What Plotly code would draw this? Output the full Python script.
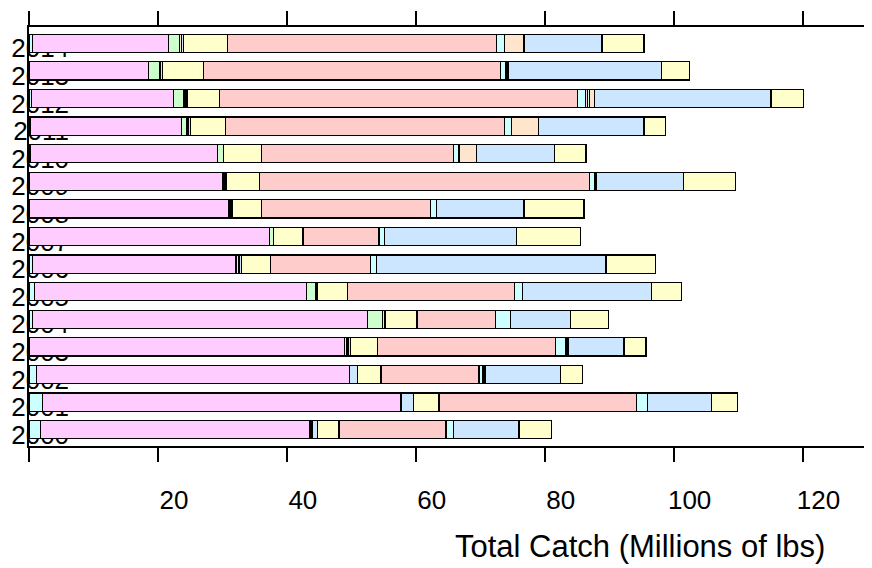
import plotly.graph_objects as go

years = [2000, 2001, 2002, 2003, 2004, 2005, 2006, 2007, 2008, 2009, 2010, 2011, 2012, 2013, 2014]
year_labels = [str(y) for y in years]

# segment values (millions of lbs), stacked left to right, years 2000..2014
group_01 = [1.8, 2.1, 1.2, 0.1, 0.5, 0.9, 0.5, 0.1, 0.1, 0.1, 0.2, 0.2, 0.4, 0.0, 0.5]
group_02 = [41.7, 55.6, 48.5, 48.9, 52.0, 42.1, 31.6, 37.2, 30.8, 30.0, 29.0, 23.4, 22.0, 18.5, 21.1]
group_03 = [0.25, 0.0, 0.0, 0.25, 2.4, 1.4, 0.4, 0.6, 0.2, 0.2, 1.0, 0.9, 1.6, 1.7, 1.8]
group_04 = [0.25, 0.0, 0.0, 0.25, 0.2, 0.2, 0.2, 0.0, 0.2, 0.15, 0.0, 0.2, 0.2, 0.2, 0.2]
group_05 = [0.8, 1.9, 1.2, 0.4, 0.2, 0.2, 0.3, 0.0, 0.2, 0.15, 0.0, 0.3, 0.3, 0.3, 0.4]
group_06 = [3.3, 4.0, 3.7, 4.2, 4.9, 4.6, 4.5, 4.6, 4.6, 5.2, 5.9, 5.5, 5.1, 6.4, 6.8]
group_07 = [16.6, 30.6, 15.2, 27.6, 12.2, 25.9, 15.5, 11.8, 26.2, 51.2, 29.7, 43.3, 55.5, 46.0, 41.7]
group_08 = [1.1, 1.7, 0.5, 1.6, 2.3, 1.2, 0.9, 0.8, 0.9, 0.8, 0.9, 1.1, 1.2, 0.8, 1.3]
group_09 = [0.0, 0.0, 0.15, 0.15, 0.0, 0.0, 0.0, 0.0, 0.0, 0.1, 0.0, 0.0, 0.3, 0.15, 0.0]
group_10 = [0.0, 0.0, 0.15, 0.1, 0.0, 0.0, 0.0, 0.0, 0.0, 0.0, 0.0, 0.0, 0.3, 0.15, 0.0]
group_11 = [0.0, 0.0, 0.2, 0.15, 0.0, 0.0, 0.0, 0.0, 0.0, 0.1, 2.7, 4.2, 0.8, 0.2, 3.0]
group_12 = [10.2, 10.0, 11.6, 8.6, 9.3, 20.1, 35.6, 20.5, 13.6, 13.5, 12.1, 16.3, 27.4, 23.7, 12.1]
group_13 = [5.0, 4.0, 3.5, 3.4, 5.9, 4.6, 7.7, 9.9, 9.3, 8.1, 4.9, 3.4, 5.0, 4.4, 6.5]

groups = [group_01, group_02, group_03, group_04, group_05, group_06, group_07,
          group_08, group_09, group_10, group_11, group_12, group_13]

palette = ["#CCFFFF", "#FFCCFF", "#CCFFCC", "#FFE5CC", "#CCE6FF", "#FFFFCC", "#FFCCCC"]

x_tickvals = [0, 20, 40, 60, 80, 100, 120]
x_ticktext = ["", "20", "40", "60", "80", "100", "120"]

FONT = "Liberation Sans, Arial, sans-serif"

fig = go.Figure()
for i, vals in enumerate(groups):
    fig.add_trace(go.Bar(
        y=years, x=vals, orientation="h",
        marker=dict(color=palette[i % len(palette)], line=dict(color="black", width=1.2)),
        width=0.655, showlegend=False, hoverinfo="skip",
    ))

fig.update_layout(
    barmode="stack",
    width=864, height=560, autosize=False,
    margin=dict(l=21, r=3, t=13, b=122, pad=0),
    plot_bgcolor="white", paper_bgcolor="white",
    font=dict(family=FONT, color="black"),
    annotations=[dict(
        text="Total Catch (Millions of lbs)", xref="paper", yref="paper",
        x=0.7286, y=0, yshift=-100, xanchor="center", yanchor="middle",
        showarrow=False, font=dict(size=31, family=FONT, color="black"),
    )],
)

fig.update_xaxes(
    range=[0, 130], tickvals=x_tickvals, ticktext=x_ticktext,
    ticks="outside", ticklen=14, tickwidth=1.5, tickcolor="black",
    showline=True, linecolor="black", linewidth=1.5, mirror="ticks",
    showgrid=False, zeroline=False,
    tickfont=dict(size=26, family=FONT, color="black"),
    ticklabelshift=16, ticklabelstandoff=16,
)
fig.update_yaxes(
    range=[1999.41, 2014.59], tickvals=years, ticktext=year_labels,
    ticks="", showline=True, linecolor="black", linewidth=1.5, mirror=True,
    showgrid=False, zeroline=False, layer="below traces",
    tickfont=dict(size=26, family=FONT, color="black"),
    ticklabelstandoff=-47, ticklabelshift=5,
)

fig.write_html("out.html")
